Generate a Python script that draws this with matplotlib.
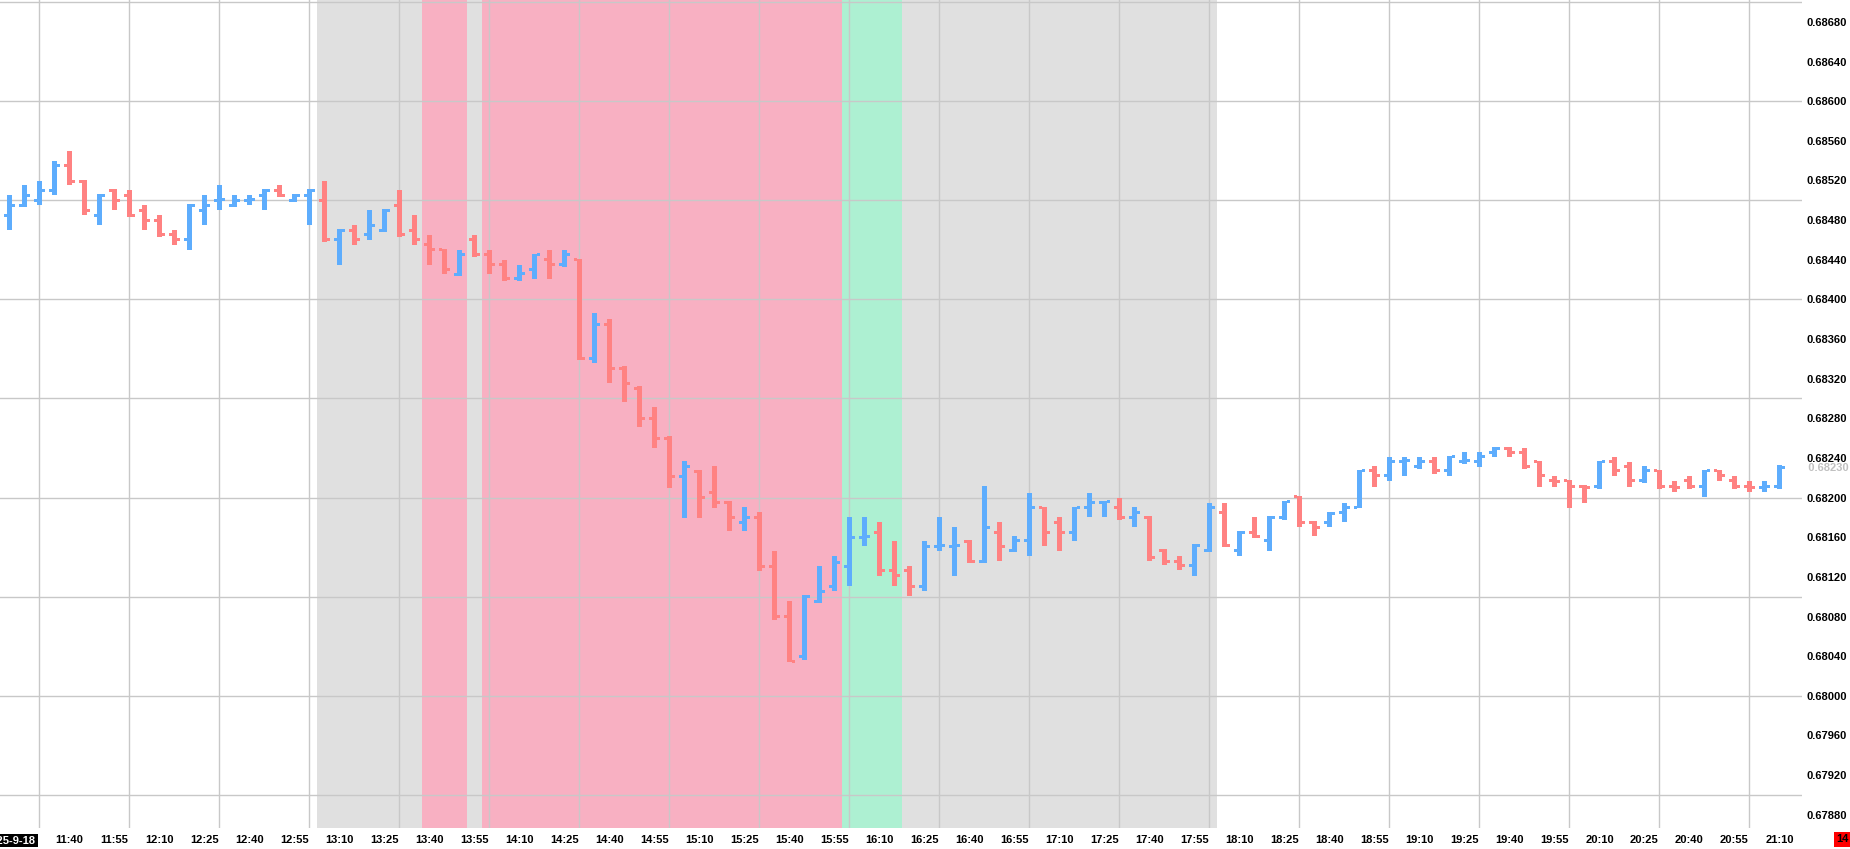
import numpy as np
import pandas as pd
import matplotlib
matplotlib.use('Agg')
import matplotlib.pyplot as plt
import matplotlib.transforms as mtransforms

# 5 minute OHLC bars, 2025-09-18 from 11:20 to 21:10
opens = [0.68485, 0.68495, 0.68500, 0.68510, 0.68535, 0.68519, 0.68485, 0.68510, 0.68505, 0.68490,
         0.68480, 0.68465, 0.68460, 0.68490, 0.68500, 0.68495, 0.68500, 0.68505, 0.68510, 0.68500,
         0.68505, 0.68500, 0.68460, 0.68470, 0.68465, 0.68470, 0.68495, 0.68470, 0.68455, 0.68450,
         0.68425, 0.68460, 0.68445, 0.68435, 0.68421, 0.68430, 0.68440, 0.68435, 0.68440, 0.68340,
         0.68375, 0.68330, 0.68310, 0.68280, 0.68260, 0.68221, 0.68226, 0.68205, 0.68195, 0.68175,
         0.68180, 0.68130, 0.68080, 0.68040, 0.68095, 0.68110, 0.68130, 0.68160, 0.68165, 0.68126,
         0.68126, 0.68110, 0.68151, 0.68151, 0.68156, 0.68136, 0.68165, 0.68147, 0.68157, 0.68190,
         0.68175, 0.68165, 0.68190, 0.68195, 0.68190, 0.68180, 0.68180, 0.68147, 0.68136, 0.68131,
         0.68147, 0.68185, 0.68147, 0.68165, 0.68157, 0.68180, 0.68201, 0.68175, 0.68175, 0.68185,
         0.68190, 0.68227, 0.68222, 0.68236, 0.68231, 0.68236, 0.68227, 0.68236, 0.68236, 0.68246,
         0.68250, 0.68246, 0.68236, 0.68217, 0.68217, 0.68211, 0.68211, 0.68236, 0.68231, 0.68217,
         0.68227, 0.68211, 0.68217, 0.68211, 0.68227, 0.68217, 0.68211, 0.68210, 0.68211]
highs = [0.68505, 0.68515, 0.68519, 0.68540, 0.68550, 0.68520, 0.68506, 0.68511, 0.68510, 0.68495,
         0.68485, 0.68470, 0.68496, 0.68505, 0.68515, 0.68505, 0.68505, 0.68511, 0.68515, 0.68506,
         0.68511, 0.68519, 0.68471, 0.68475, 0.68490, 0.68491, 0.68510, 0.68485, 0.68465, 0.68451,
         0.68450, 0.68465, 0.68450, 0.68440, 0.68435, 0.68446, 0.68450, 0.68450, 0.68441, 0.68386,
         0.68380, 0.68333, 0.68313, 0.68291, 0.68262, 0.68237, 0.68228, 0.68232, 0.68197, 0.68191,
         0.68185, 0.68146, 0.68096, 0.68102, 0.68131, 0.68141, 0.68180, 0.68180, 0.68175, 0.68156,
         0.68131, 0.68156, 0.68180, 0.68170, 0.68157, 0.68212, 0.68175, 0.68161, 0.68205, 0.68191,
         0.68180, 0.68191, 0.68205, 0.68197, 0.68200, 0.68191, 0.68181, 0.68148, 0.68141, 0.68153,
         0.68195, 0.68195, 0.68166, 0.68180, 0.68181, 0.68197, 0.68202, 0.68176, 0.68185, 0.68195,
         0.68228, 0.68232, 0.68241, 0.68241, 0.68241, 0.68241, 0.68242, 0.68246, 0.68246, 0.68251,
         0.68251, 0.68250, 0.68237, 0.68222, 0.68218, 0.68213, 0.68237, 0.68241, 0.68236, 0.68232,
         0.68228, 0.68217, 0.68222, 0.68228, 0.68228, 0.68222, 0.68217, 0.68217, 0.68233]
lows = [0.68470, 0.68493, 0.68495, 0.68505, 0.68515, 0.68485, 0.68475, 0.68490, 0.68483, 0.68470,
        0.68463, 0.68455, 0.68450, 0.68475, 0.68490, 0.68493, 0.68495, 0.68490, 0.68503, 0.68498,
        0.68475, 0.68458, 0.68435, 0.68455, 0.68460, 0.68468, 0.68463, 0.68455, 0.68435, 0.68426,
        0.68424, 0.68443, 0.68426, 0.68419, 0.68419, 0.68421, 0.68421, 0.68433, 0.68339, 0.68336,
        0.68316, 0.68296, 0.68271, 0.68250, 0.68210, 0.68179, 0.68179, 0.68190, 0.68166, 0.68166,
        0.68126, 0.68076, 0.68034, 0.68036, 0.68094, 0.68106, 0.68111, 0.68151, 0.68121, 0.68111,
        0.68101, 0.68106, 0.68146, 0.68121, 0.68134, 0.68134, 0.68136, 0.68145, 0.68141, 0.68151,
        0.68146, 0.68156, 0.68180, 0.68180, 0.68177, 0.68170, 0.68136, 0.68132, 0.68127, 0.68121,
        0.68145, 0.68150, 0.68141, 0.68159, 0.68146, 0.68177, 0.68170, 0.68161, 0.68170, 0.68175,
        0.68189, 0.68211, 0.68217, 0.68222, 0.68229, 0.68224, 0.68222, 0.68234, 0.68231, 0.68241,
        0.68241, 0.68229, 0.68211, 0.68211, 0.68190, 0.68195, 0.68209, 0.68222, 0.68211, 0.68215,
        0.68209, 0.68206, 0.68209, 0.68201, 0.68217, 0.68209, 0.68206, 0.68206, 0.68209]
closes = [0.68495, 0.68505, 0.68510, 0.68535, 0.68519, 0.68490, 0.68505, 0.68500, 0.68485, 0.68480,
          0.68465, 0.68460, 0.68495, 0.68495, 0.68501, 0.68500, 0.68501, 0.68510, 0.68505, 0.68505,
          0.68510, 0.68460, 0.68470, 0.68460, 0.68475, 0.68490, 0.68465, 0.68460, 0.68450, 0.68430,
          0.68445, 0.68445, 0.68435, 0.68421, 0.68426, 0.68445, 0.68435, 0.68445, 0.68340, 0.68375,
          0.68330, 0.68315, 0.68280, 0.68260, 0.68221, 0.68231, 0.68200, 0.68195, 0.68180, 0.68180,
          0.68130, 0.68080, 0.68035, 0.68100, 0.68105, 0.68135, 0.68160, 0.68161, 0.68126, 0.68121,
          0.68110, 0.68151, 0.68152, 0.68152, 0.68136, 0.68170, 0.68151, 0.68157, 0.68190, 0.68165,
          0.68165, 0.68190, 0.68195, 0.68196, 0.68180, 0.68185, 0.68140, 0.68136, 0.68131, 0.68152,
          0.68190, 0.68152, 0.68165, 0.68161, 0.68180, 0.68196, 0.68175, 0.68170, 0.68184, 0.68190,
          0.68227, 0.68222, 0.68236, 0.68237, 0.68236, 0.68227, 0.68241, 0.68237, 0.68241, 0.68250,
          0.68246, 0.68231, 0.68222, 0.68216, 0.68211, 0.68210, 0.68236, 0.68227, 0.68217, 0.68227,
          0.68211, 0.68210, 0.68211, 0.68227, 0.68222, 0.68211, 0.68210, 0.68211, 0.68230]

# background session bands (start, end, colour)
bands = [('13:05', '13:40', '#e0e0e0'),
         ('13:40', '13:55', '#f8b0c2'),
         ('13:55', '14:00', '#e0e0e0'),
         ('14:00', '16:00', '#f8b0c2'),
         ('16:00', '16:20', '#adf0d2'),
         ('16:20', '18:05', '#e0e0e0')]

date_label = '2025-9-18'
corner_label = '14'

up_col = '#5eadfd'
down_col = '#ff8282'
grid_col = '#c8c8c8'

plt.rcParams['font.family'] = ['Liberation Sans', 'DejaVu Sans']

times = pd.date_range('2025-09-18 11:20', periods=len(closes), freq='5min')
hhmm = list(times.strftime('%H:%M'))
x = np.arange(len(closes))
o = np.array(opens)
h = np.array(highs)
l = np.array(lows)
c = np.array(closes)
cols = np.where(c > o, up_col, down_col)

W, H = 1850, 849
fig = plt.figure(figsize=(W / 100, H / 100), dpi=100)
ax = fig.add_axes([0, 21.3 / H, 1802 / W, 827.7 / H])
ax.set_xlim(-0.633, 119.5)
ax.set_ylim(0.678669, 0.687021)

# sizes of one screen pixel in data units
px_x = (119.5 + 0.633) / 1802
px_y = (0.687021 - 0.678669) / 827.7

for t0, t1, col in bands:
    i0 = hhmm.index(t0)
    i1 = hhmm.index(t1)
    ax.axvspan(i0 - 0.5, i1 - 0.5, color=col, lw=0, zorder=0)

# grid every 30 min and every 0.001
for gx in x[2::6]:
    ax.axvline(gx, color=grid_col, lw=1, zorder=1)
for gy in np.arange(0.679, 0.6871, 0.001):
    ax.axhline(gy, color=grid_col, lw=1, zorder=1)

# ohlc bars: vertical range, open tick left, close tick right
ax.bar(x, h - l, bottom=l, width=5 * px_x, color=cols, lw=0, zorder=3)
ax.bar(x - 4 * px_x, 3 * px_y, bottom=o - 1.5 * px_y, width=3 * px_x, color=cols, lw=0, zorder=3)
ax.bar(x + 4 * px_x, 3 * px_y, bottom=c - 1.5 * px_y, width=3 * px_x, color=cols, lw=0, zorder=3)

# labels every 15 min / 0.0004
ax.set_xticks(x[4::3])
ax.set_xticklabels([hhmm[i] for i in x[4::3]], fontsize=8, fontweight='bold')
yt = np.arange(0.6788, 0.68681, 0.0004)
ax.yaxis.tick_right()
ax.set_yticks(yt)
ax.set_yticklabels(['%.5f' % v for v in yt], fontsize=8, fontweight='bold')
ax.tick_params(which='both', length=0)
ax.tick_params(axis='x', pad=5)
ax.tick_params(axis='y', pad=3.2)
for s in ax.spines.values():
    s.set_visible(False)

# last price marker
tr = mtransforms.blended_transform_factory(ax.transAxes, ax.transData)
ax.text(1.0, closes[-1], '  %.5f' % closes[-1], transform=tr, color='#c0c0c0',
        fontsize=8, fontweight='bold', ha='left', va='center', clip_on=False)

fig.text(36 / W, 1 - 840.5 / H, date_label, color='white', fontsize=8, fontweight='bold',
         ha='right', va='center',
         bbox=dict(facecolor='black', edgecolor='none', boxstyle='square,pad=0.15'))
fig.text(1 - 1 / W, 1 - 839.5 / H, corner_label, color='black', fontsize=8, fontweight='bold',
         ha='right', va='center',
         bbox=dict(facecolor='#ff0000', edgecolor='none', boxstyle='square,pad=0.2'))

fig.savefig('out.png', dpi=100)
